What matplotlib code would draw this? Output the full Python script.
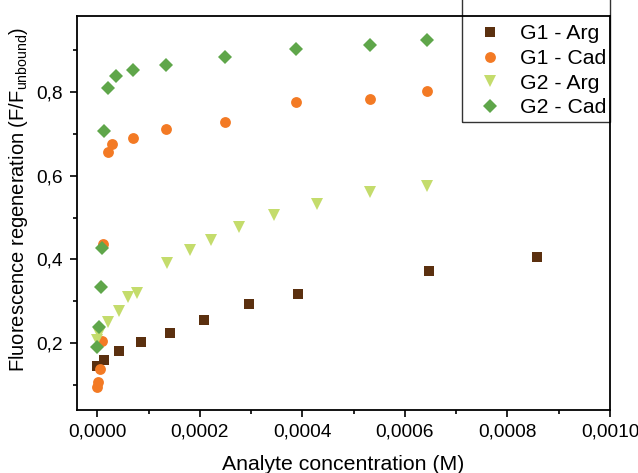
import matplotlib
matplotlib.use('Agg')
import matplotlib.pyplot as plt
from matplotlib.ticker import MultipleLocator, FuncFormatter
from matplotlib.patches import Rectangle

# G1 - Arg
g1_arg_x = [0.0, 0.0000136, 0.0000429, 0.0000858, 0.000142, 0.000208, 0.000296, 0.000391, 0.000647, 0.000857]
g1_arg_y = [0.146, 0.159, 0.180, 0.202, 0.223, 0.254, 0.293, 0.317, 0.373, 0.406]

# G1 - Cad
g1_cad_x = [0.0, 0.000002, 0.0000053, 0.0000097, 0.0000117, 0.0000214, 0.000028, 0.0000702, 0.000134, 0.000249, 0.000388, 0.000532, 0.000643]
g1_cad_y = [0.094, 0.107, 0.139, 0.206, 0.437, 0.656, 0.675, 0.690, 0.711, 0.728, 0.777, 0.784, 0.802]

# G2 - Arg
g2_arg_x = [0.0, 0.000004, 0.0000214, 0.0000429, 0.0000604, 0.000078, 0.000135, 0.000181, 0.000222, 0.000276, 0.000345, 0.000428, 0.000532, 0.000643]
g2_arg_y = [0.207, 0.222, 0.251, 0.277, 0.311, 0.319, 0.391, 0.422, 0.446, 0.478, 0.506, 0.532, 0.562, 0.576]

# G2 - Cad
g2_cad_x = [0.0, 0.0000027, 0.0000066, 0.0000097, 0.000013, 0.0000214, 0.0000365, 0.0000702, 0.000134, 0.000249, 0.000388, 0.000532, 0.000643]
g2_cad_y = [0.191, 0.238, 0.335, 0.427, 0.707, 0.811, 0.839, 0.853, 0.866, 0.884, 0.902, 0.913, 0.925]

series_labels = ['G1 - Arg', 'G1 - Cad', 'G2 - Arg', 'G2 - Cad']

plt.rcParams['font.family'] = ['Liberation Sans', 'DejaVu Sans']
plt.rcParams['mathtext.fontset'] = 'custom'
plt.rcParams['mathtext.rm'] = 'Liberation Sans'
plt.rcParams['mathtext.it'] = 'Liberation Sans'

fig = plt.figure(figsize=(6.38, 4.73), dpi=100)
ax = fig.add_axes([77 / 638, 1 - 410 / 473, 533 / 638, 394 / 473])

ax.plot(g1_arg_x, g1_arg_y, ls='none', marker='s', ms=6.6, color='#5b300f', mew=0, label=series_labels[0])
ax.plot(g1_cad_x, g1_cad_y, ls='none', marker='o', ms=7.8, color='#f37a24', mew=0, label=series_labels[1])
ax.plot(g2_arg_x, g2_arg_y, ls='none', marker='v', ms=8.6, color='#c4dc6c', mew=0, label=series_labels[2])
ax.plot(g2_cad_x, g2_cad_y, ls='none', marker='D', ms=6.8, color='#5fa64a', mew=0, label=series_labels[3])

ax.set_xlim(-0.0000396, 0.001)
ax.set_ylim(0.04, 0.982)

ax.xaxis.set_major_locator(MultipleLocator(0.0002))
ax.xaxis.set_minor_locator(MultipleLocator(0.0001))
ax.yaxis.set_major_locator(MultipleLocator(0.2))
ax.yaxis.set_minor_locator(MultipleLocator(0.1))


def comma_fmt(digits):
    def f(v, pos):
        if abs(v) < 1e-12:
            v = 0.0
        return f'{v:.{digits}f}'.replace('.', ',')
    return FuncFormatter(f)


ax.xaxis.set_major_formatter(comma_fmt(4))
ax.yaxis.set_major_formatter(comma_fmt(1))

ax.tick_params(which='both', direction='out', top=False, right=False, labelsize=13.8, width=1.2)
ax.tick_params(which='major', length=5, pad=5)
ax.tick_params(which='minor', length=3)
for sp in ax.spines.values():
    sp.set_linewidth(1.3)

ax.set_xlabel('Analyte concentration (M)', fontsize=15.3, labelpad=10)
ax.set_ylabel(r'Fluorescence regeneration (F/F$_{\mathrm{unbound}}$)', fontsize=14.5)
ax.yaxis.set_label_coords(-0.088, 0.533)

leg = ax.legend(loc='upper left', bbox_to_anchor=(0.751, 0.979), frameon=False,
                fontsize=15.3, borderpad=0, borderaxespad=0, handlelength=1.2,
                handletextpad=0.81, labelspacing=0.27, markerscale=1.0)

ax.add_patch(Rectangle((0.7223, 0.731), 0.2777, 0.4, transform=ax.transAxes,
                       fill=False, edgecolor='#333333', lw=1.0, clip_on=False))

fig.savefig('out.png', dpi=100)
